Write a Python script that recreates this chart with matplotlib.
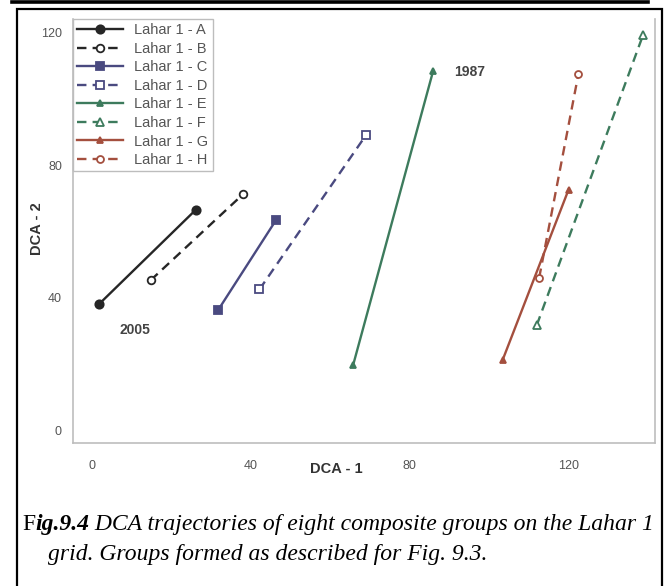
import matplotlib
matplotlib.use('Agg')
import matplotlib.pyplot as plt
from matplotlib.lines import Line2D
from matplotlib.patches import Rectangle

# ---- data ----
groups = ['Lahar 1 - A', 'Lahar 1 - B', 'Lahar 1 - C', 'Lahar 1 - D',
          'Lahar 1 - E', 'Lahar 1 - F', 'Lahar 1 - G', 'Lahar 1 - H']
x_2005 = [1.8, 14.8, 31.8, 42.2, 65.8, 112.1, 103.5, 112.7]
y_2005 = [38.1, 45.3, 36.3, 42.5, 19.6, 31.7, 21.2, 46.0]
x_1987 = [26.1, 38.1, 46.4, 69.1, 86.0, 138.9, 120.1, 122.6]
y_1987 = [66.5, 71.3, 63.5, 89.2, 108.6, 119.4, 72.6, 107.6]
x_ticks = [0, 40, 80, 120]
y_ticks = [0, 40, 80, 120]
year_labels = ['2005', '1987']
year_pos = [(10.8, 30.2), (95.3, 108.2)]
caption_prefix = ['F', 'ig.9.4']
caption_line1 = ' DCA trajectories of eight composite groups on the Lahar 1'
caption_line2 = 'grid. Groups formed as described for Fig. 9.3.'

# ---- styles ----
colors = ['#262626', '#262626', '#4a4a80', '#4a4a80',
          '#3d7b5d', '#3d7b5d', '#a44f3e', '#a44f3e']
linestyles = ['-', (0, (4, 2.6))] * 4
markers = ['o', 'o', 's', 's', '^', '^', '^', 'o']
filled = [True, False, True, False, True, False, True, False]
msizes = [6, 5.5, 6, 6, 4.5, 5.5, 4.5, 5]

W, H = 666, 586
fig = plt.figure(figsize=(W / 100, H / 100), dpi=100)
fig.patch.set_facecolor('white')

def px(x, y):
    return x / W, 1 - y / H

# outer decorations
fig.add_artist(Line2D([12 / W, 648 / W], [1 - 2 / H, 1 - 2 / H], color='black', lw=2.6,
                      transform=fig.transFigure))
fig.add_artist(Rectangle(px(17, 600), 645 / W, 591 / H, fill=False, ec='black', lw=1.6,
                         transform=fig.transFigure, clip_on=False))

ax = fig.add_axes([73 / W, 1 - 443 / H, (655 - 73) / W, (443 - 19) / H])
for i, g in enumerate(groups):
    ax.plot([x_2005[i], x_1987[i]], [y_2005[i], y_1987[i]],
            color=colors[i], ls=linestyles[i], lw=1.7,
            marker=markers[i], ms=msizes[i], mew=1.3,
            mfc=colors[i] if filled[i] else 'white', mec=colors[i], label=g)

for lab, (xx, yy) in zip(year_labels, year_pos):
    ax.text(xx, yy, lab, fontsize=10, fontweight='bold', color='#444444',
            ha='center', va='center', family='Liberation Sans')

ax.set_xlim(-4.8, 141.9)
ax.set_ylim(-3.9, 124.2)
ax.set_xticks(x_ticks)
ax.set_yticks(y_ticks)
ax.tick_params(length=0, labelsize=9, labelcolor='#555555')
ax.tick_params(axis='x', pad=12)
ax.tick_params(axis='y', pad=8)
for lab in ax.get_xticklabels() + ax.get_yticklabels():
    lab.set_family('Liberation Sans')
for s in ['left', 'bottom', 'right']:
    ax.spines[s].set_color('#bdbdbd')
    ax.spines[s].set_linewidth(1.2)
ax.spines['top'].set_visible(False)

leg = ax.legend(loc='upper left', bbox_to_anchor=(0, 1.0), borderaxespad=0,
                handlelength=3.1, labelspacing=0.31, handletextpad=0.8,
                borderpad=0.3, fancybox=False, framealpha=1, edgecolor='#bdbdbd',
                prop={'family': 'Liberation Sans', 'size': 10.5})
leg.get_frame().set_linewidth(1.0)
for t in leg.get_texts():
    t.set_color('#555555')

fig.text(*px(37, 229), 'DCA - 2', rotation=90, fontsize=10.5, fontweight='bold',
         color='#333333', ha='center', va='center', family='Liberation Sans')
fig.text(*px(336, 469), 'DCA - 1', fontsize=10.5, fontweight='bold',
         color='#333333', ha='center', va='center', family='Liberation Sans')

# caption
fig.canvas.draw()
r = fig.canvas.get_renderer()
cap_fs = 17
serif = 'Liberation Serif'
x0 = 22
t1 = fig.text(*px(x0, 530), caption_prefix[0], fontsize=cap_fs, family=serif,
              style='normal', va='baseline', ha='left')
e = t1.get_window_extent(r)
t2 = fig.text(e.x1 / W, 1 - 530 / H, caption_prefix[1], fontsize=cap_fs, family=serif,
              style='italic', fontweight='bold', va='baseline', ha='left')
e = t2.get_window_extent(r)
t3 = fig.text(e.x1 / W, 1 - 530 / H, caption_line1, fontsize=cap_fs, family=serif,
              style='italic', va='baseline', ha='left')
t4 = fig.text(*px(48, 560), caption_line2, fontsize=cap_fs, family=serif,
              style='italic', va='baseline', ha='left')

fig.savefig('out.png', dpi=100)
